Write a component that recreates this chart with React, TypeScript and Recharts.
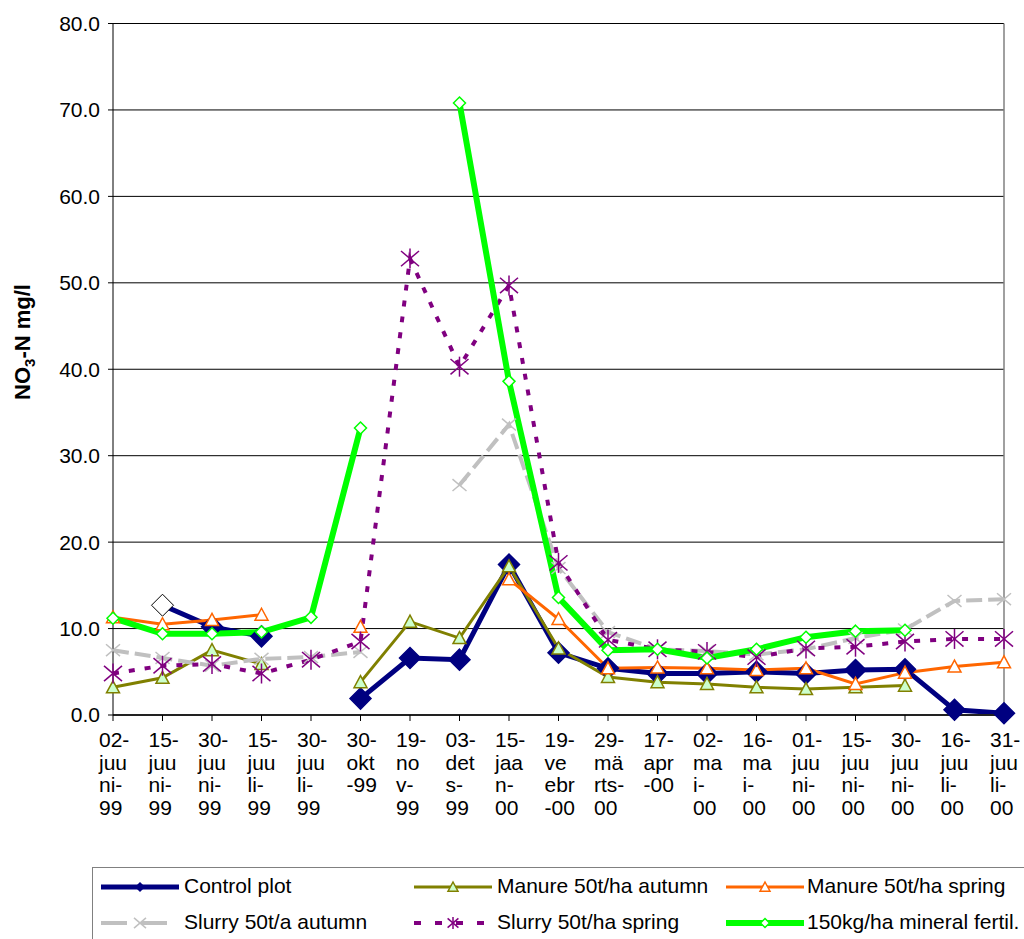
import React from "react";
import {
  LineChart,
  Line,
  XAxis,
  YAxis,
  CartesianGrid,
  ReferenceLine,
  Legend,
} from "recharts";

const FONT = "'Liberation Sans', Arial, sans-serif";

const dates = [
  "02-juuni-99", "15-juuni-99", "30-juuni-99", "15-juuli-99", "30-juuli-99",
  "30-okt-99", "19-nov-99", "03-dets-99", "15-jaan-00", "19-veebr-00",
  "29-märts-00", "17-apr-00", "02-mai-00", "16-mai-00", "01-juuni-00",
  "15-juuni-00", "30-juuni-00", "16-juuli-00", "31-juuli-00",
];

// wrapped the way the original axis breaks them
const tickLines = [
  ["02-", "juu", "ni-", "99"], ["15-", "juu", "ni-", "99"], ["30-", "juu", "ni-", "99"],
  ["15-", "juu", "li-", "99"], ["30-", "juu", "li-", "99"], ["30-", "okt", "-99"],
  ["19-", "no", "v-", "99"], ["03-", "det", "s-", "99"], ["15-", "jaa", "n-", "00"],
  ["19-", "ve", "ebr", "-00"], ["29-", "mä", "rts-", "00"], ["17-", "apr", "-00"],
  ["02-", "ma", "i-", "00"], ["16-", "ma", "i-", "00"], ["01-", "juu", "ni-", "00"],
  ["15-", "juu", "ni-", "00"], ["30-", "juu", "ni-", "00"], ["16-", "juu", "li-", "00"],
  ["31-", "juu", "li-", "00"],
];

const yTicks = [0, 10, 20, 30, 40, 50, 60, 70, 80];

const control = [null, 12.7, 10.2, 9.1, null, 1.9, 6.6, 6.4, 17.4, 7.2, 5.4, 4.8, 4.8, 5.0, 4.8, 5.2, 5.3, 0.6, 0.2];
const manureAutumn = [3.2, 4.3, 7.5, 5.9, null, 3.8, 10.8, 8.9, 17.2, 7.7, 4.4, 3.8, 3.6, 3.2, 3.0, 3.2, 3.4, null, null];
const manureSpring = [11.3, 10.5, 11.0, 11.6, null, 10.2, null, null, 15.7, 11.1, 5.4, 5.5, 5.4, 5.2, 5.4, 3.6, 4.9, 5.6, 6.1];
const slurryAutumn = [7.5, 6.6, 5.7, 6.5, 6.7, 7.3, null, 26.6, 33.6, 17.0, 9.6, 7.6, 7.4, 7.0, 7.6, 8.9, 9.9, 13.2, 13.4];
const slurrySpring = [4.8, 5.7, 5.9, 4.8, 6.4, 8.5, 52.8, 40.3, 49.7, 17.6, 8.7, 7.6, 7.3, 6.7, 7.7, 7.9, 8.5, 8.8, 8.8];
const mineral = [11.2, 9.4, 9.4, 9.6, 11.3, 33.2, null, 70.8, 38.6, 13.6, 7.5, 7.6, 6.6, 7.6, 9.0, 9.7, 9.8, null, null];

const rows = dates.map((date, i) => ({
  date,
  control: control[i],
  manureAutumn: manureAutumn[i],
  manureSpring: manureSpring[i],
  slurryAutumn: slurryAutumn[i],
  slurrySpring: slurrySpring[i],
  mineral: mineral[i],
}));

type Kind = "diamond" | "triangle" | "x" | "star";

interface SeriesStyle {
  key: string;
  name: string;
  color: string;
  width: number;
  dash?: string;
  legendDash?: string;
  kind: Kind;
  size: number;
  legendSize: number;
  fill: string;
}

const series: SeriesStyle[] = [
  { key: "control", name: "Control plot", color: "#000080", width: 5, kind: "diamond", size: 10.5, legendSize: 4, fill: "#000080" },
  { key: "manureAutumn", name: "Manure 50t/ha autumn", color: "#808000", width: 3, kind: "triangle", size: 6.5, legendSize: 5, fill: "#CCFFCC" },
  { key: "manureSpring", name: "Manure 50t/ha spring", color: "#FF6600", width: 3, kind: "triangle", size: 6.5, legendSize: 5, fill: "#FFFFFF" },
  { key: "slurryAutumn", name: "Slurry 50t/a autumn", color: "#C0C0C0", width: 4, dash: "16 6", legendDash: "26 14", kind: "x", size: 7, legendSize: 6, fill: "none" },
  { key: "slurrySpring", name: "Slurry 50t/ha spring", color: "#800080", width: 4, dash: "6 10", legendDash: "7 14", kind: "star", size: 10, legendSize: 6, fill: "none" },
  { key: "mineral", name: "150kg/ha mineral fertil.", color: "#00FF00", width: 6, kind: "diamond", size: 6, legendSize: 4.5, fill: "#FFFFFF" },
];

function Marker({ kind, cx, cy, s, fill, stroke, sw = 1.5 }: {
  kind: Kind; cx: number; cy: number; s: number; fill: string; stroke: string; sw?: number;
}) {
  if (kind === "diamond") {
    return (
      <polygon
        points={`${cx},${cy - s} ${cx + s},${cy} ${cx},${cy + s} ${cx - s},${cy}`}
        fill={fill}
        stroke={stroke}
        strokeWidth={sw}
      />
    );
  }
  if (kind === "triangle") {
    return (
      <polygon
        points={`${cx},${cy - s} ${cx + s},${cy + s * 0.85} ${cx - s},${cy + s * 0.85}`}
        fill={fill}
        stroke={stroke}
        strokeWidth={sw}
      />
    );
  }
  const d = kind === "star" ? s * 0.9 : s;
  return (
    <g stroke={stroke} strokeWidth={sw}>
      <line x1={cx - d} y1={cy - d * 0.85} x2={cx + d} y2={cy + d * 0.85} />
      <line x1={cx - d} y1={cy + d * 0.85} x2={cx + d} y2={cy - d * 0.85} />
      {kind === "star" && <line x1={cx} y1={cy - s} x2={cx} y2={cy + s} />}
    </g>
  );
}

function makeDot(st: SeriesStyle) {
  return (props: any) => {
    const { cx, cy, index, value } = props;
    if (value == null || cy == null || isNaN(cy)) return <g key={`${st.key}-${index}`} />;
    // the first control point is drawn as an open diamond in the original
    const odd = st.key === "control" && index === 1;
    return (
      <g key={`${st.key}-${index}`}>
        <Marker
          kind={st.kind}
          cx={cx}
          cy={cy}
          s={odd ? 11 : st.size}
          fill={odd ? "#FFFFFF" : st.fill}
          stroke={odd ? "#000000" : st.color}
          sw={odd ? 1 : 1.5}
        />
      </g>
    );
  };
}

const XTick = (props: any) => {
  const { x, y, payload } = props;
  const idx = dates.indexOf(payload.value);
  const lines = tickLines[idx] ?? [];
  return (
    <text x={x - 14} y={y} fontSize={21} fontFamily={FONT} fill="#000">
      {lines.map((l, i) => (
        <tspan key={i} x={x - 14} y={y + 23.7 + i * 22.8}>
          {l}
        </tspan>
      ))}
    </text>
  );
};

const YTitle = () => (
  <text
    transform="translate(30, 342) rotate(-90)"
    textAnchor="middle"
    fontSize={22}
    fontWeight="bold"
    fontFamily={FONT}
    fill="#000"
  >
    <tspan>NO</tspan>
    <tspan fontSize={15} dy={5}>3</tspan>
    <tspan dy={-5}>-N mg/l</tspan>
  </text>
);

const legendCols = [8, 321, 633];
const legendTextCols = [91, 404, 714];
const legendRows = [19, 55];

const LegendBox = () => (
  <div
    style={{
      position: "relative",
      width: 940,
      height: 80,
      border: "1px solid #808080",
      background: "#fff",
      fontFamily: FONT,
      fontSize: 21,
      color: "#000",
    }}
  >
    {series.map((st, i) => {
      const col = i % 3;
      const row = Math.floor(i / 3);
      return (
        <React.Fragment key={st.key}>
          <svg
            width={78}
            height={20}
            style={{ position: "absolute", left: legendCols[col], top: legendRows[row] - 10 }}
          >
            <line
              x1={0}
              y1={10}
              x2={78}
              y2={10}
              stroke={st.color}
              strokeWidth={st.width}
              strokeDasharray={st.legendDash}
            />
            <Marker kind={st.kind} cx={39} cy={10} s={st.legendSize} fill={st.fill} stroke={st.color} />
          </svg>
          <span
            style={{
              position: "absolute",
              left: legendTextCols[col],
              top: legendRows[row] - 13,
              lineHeight: "24px",
              whiteSpace: "nowrap",
            }}
          >
            {st.name}
          </span>
        </React.Fragment>
      );
    })}
  </div>
);

export default function App() {
  return (
    <div
      style={{
        position: "absolute",
        left: 0,
        top: 0,
        width: 1024,
        height: 939,
        overflow: "hidden",
        background: "#fff",
      }}
    >
      <LineChart
        width={1024}
        height={939}
        data={rows}
        margin={{ top: 23.5, right: 20, left: 0, bottom: 0 }}
      >
        <CartesianGrid vertical={false} stroke="#000" strokeWidth={1} />
        <XAxis
          dataKey="date"
          interval={0}
          height={224}
          tick={<XTick />}
          tickSize={6}
          tickLine={{ stroke: "#000" }}
          axisLine={{ stroke: "#222", strokeWidth: 2 }}
        />
        <YAxis
          width={113}
          domain={[0, 80]}
          ticks={yTicks}
          interval={0}
          tickFormatter={(v: number) => v.toFixed(1)}
          tick={{ fontSize: 21, fontFamily: FONT, fill: "#000" }}
          tickSize={5}
          tickMargin={8}
          tickLine={{ stroke: "#000" }}
          axisLine={{ stroke: "#000" }}
          label={<YTitle />}
        />
        <ReferenceLine x={dates[dates.length - 1]} stroke="#808080" strokeWidth={1.5} />
        {series.map((st) => (
          <Line
            key={st.key}
            type="linear"
            dataKey={st.key}
            name={st.name}
            stroke={st.color}
            strokeWidth={st.width}
            strokeDasharray={st.dash}
            dot={makeDot(st)}
            activeDot={false}
            isAnimationActive={false}
          />
        ))}
        <Legend
          layout="horizontal"
          verticalAlign="middle"
          align="center"
          wrapperStyle={{ left: 92, top: 867, width: 940, height: 80 }}
          content={() => <LegendBox />}
        />
      </LineChart>
    </div>
  );
}
